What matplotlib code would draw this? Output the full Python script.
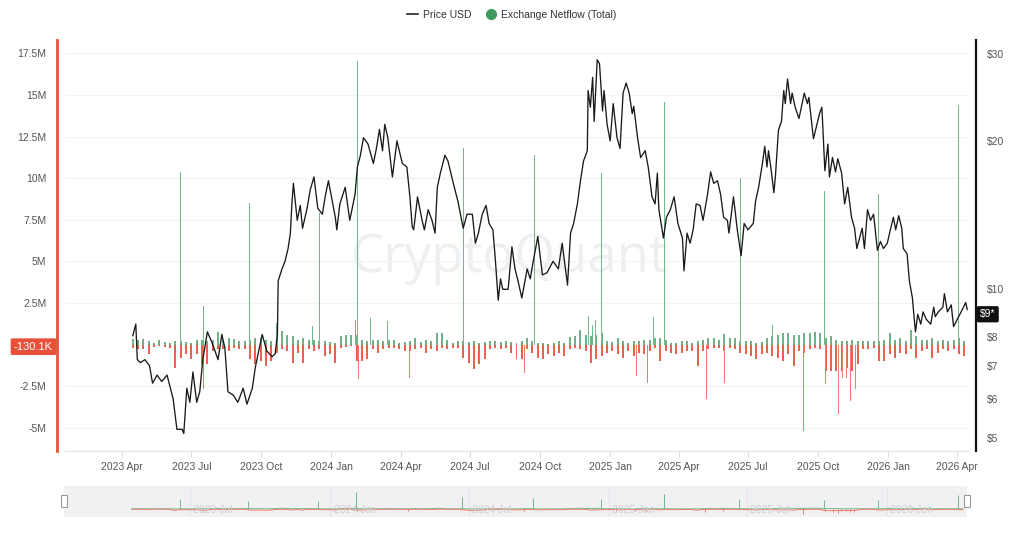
import pandas as pd
import matplotlib.pyplot as plt
import matplotlib.dates as mdates
import matplotlib.transforms as mtransforms
from matplotlib.lines import Line2D
from matplotlib.patches import Rectangle
from matplotlib.ticker import FixedLocator, FuncFormatter, NullLocator

plt.rcParams['font.family'] = ['Liberation Sans', 'DejaVu Sans']

# --- Price USD ---
price_dates = [
    "2023-04-15", "2023-04-19", "2023-04-21", "2023-04-25", "2023-05-01", "2023-05-07", "2023-05-11",
    "2023-05-17", "2023-05-23", "2023-05-30", "2023-06-07", "2023-06-12", "2023-06-19", "2023-06-21",
    "2023-06-25", "2023-06-29", "2023-07-03", "2023-07-08", "2023-07-12", "2023-07-16", "2023-07-22",
    "2023-07-28", "2023-08-01", "2023-08-05", "2023-08-10", "2023-08-14", "2023-08-18", "2023-08-25",
    "2023-08-31", "2023-09-07", "2023-09-12", "2023-09-19", "2023-09-23", "2023-10-02", "2023-10-08",
    "2023-10-15", "2023-10-19", "2023-10-22", "2023-10-23", "2023-10-28", "2023-11-01", "2023-11-05",
    "2023-11-08", "2023-11-10", "2023-11-12", "2023-11-17", "2023-11-21", "2023-11-24", "2023-11-30",
    "2023-12-04", "2023-12-09", "2023-12-14", "2023-12-20", "2023-12-24", "2023-12-28", "2024-01-02",
    "2024-01-06", "2024-01-08", "2024-01-12", "2024-01-19", "2024-01-25", "2024-02-01", "2024-02-04",
    "2024-02-08", "2024-02-12", "2024-02-18", "2024-02-25", "2024-02-29", "2024-03-04", "2024-03-08",
    "2024-03-11", "2024-03-15", "2024-03-21", "2024-03-27", "2024-04-03", "2024-04-09", "2024-04-13",
    "2024-04-16", "2024-04-18", "2024-04-23", "2024-04-29", "2024-05-02", "2024-05-07", "2024-05-12",
    "2024-05-16", "2024-05-19", "2024-05-23", "2024-05-29", "2024-06-02", "2024-06-09", "2024-06-15",
    "2024-06-22", "2024-06-27", "2024-07-04", "2024-07-08", "2024-07-12", "2024-07-17", "2024-07-22",
    "2024-07-26", "2024-07-31", "2024-08-03", "2024-08-07", "2024-08-10", "2024-08-13", "2024-08-20",
    "2024-08-25", "2024-08-29", "2024-09-02", "2024-09-07", "2024-09-14", "2024-09-18", "2024-09-22",
    "2024-09-28", "2024-10-04", "2024-10-10", "2024-10-18", "2024-10-25", "2024-10-30", "2024-11-06",
    "2024-11-10", "2024-11-14", "2024-11-19", "2024-11-23", "2024-11-27", "2024-12-02", "2024-12-03",
    "2024-12-06", "2024-12-09", "2024-12-11", "2024-12-15", "2024-12-18", "2024-12-22", "2024-12-24",
    "2024-12-28", "2025-01-01", "2025-01-05", "2025-01-10", "2025-01-14", "2025-01-18", "2025-01-22",
    "2025-01-26", "2025-01-30", "2025-02-01", "2025-02-06", "2025-02-10", "2025-02-16", "2025-02-20",
    "2025-02-25", "2025-03-01", "2025-03-04", "2025-03-06", "2025-03-12", "2025-03-16", "2025-03-21",
    "2025-03-26", "2025-03-31", "2025-04-06", "2025-04-08", "2025-04-12", "2025-04-16", "2025-04-20",
    "2025-04-24", "2025-04-29", "2025-05-03", "2025-05-09", "2025-05-13", "2025-05-17", "2025-05-22",
    "2025-05-26", "2025-05-30", "2025-06-04", "2025-06-06", "2025-06-12", "2025-06-17", "2025-06-22",
    "2025-06-26", "2025-07-01", "2025-07-08", "2025-07-11", "2025-07-15", "2025-07-20", "2025-07-23",
    "2025-07-26", "2025-07-28", "2025-08-01", "2025-08-04", "2025-08-06", "2025-08-10", "2025-08-14",
    "2025-08-17", "2025-08-19", "2025-08-22", "2025-08-26", "2025-08-28", "2025-09-01", "2025-09-06",
    "2025-09-13", "2025-09-17", "2025-09-19", "2025-09-23", "2025-09-25", "2025-09-29", "2025-10-03",
    "2025-10-06", "2025-10-07", "2025-10-10", "2025-10-14", "2025-10-16", "2025-10-20", "2025-10-24",
    "2025-10-27", "2025-11-01", "2025-11-05", "2025-11-09", "2025-11-14", "2025-11-18", "2025-11-21",
    "2025-11-28", "2025-12-01", "2025-12-05", "2025-12-09", "2025-12-13", "2025-12-18", "2025-12-22",
    "2025-12-26", "2025-12-31", "2026-01-04", "2026-01-08", "2026-01-11", "2026-01-15", "2026-01-19",
    "2026-01-21", "2026-01-26", "2026-01-29", "2026-02-02", "2026-02-03", "2026-02-06", "2026-02-09",
    "2026-02-13", "2026-02-16", "2026-02-20", "2026-02-26", "2026-03-02", "2026-03-04", "2026-03-08",
    "2026-03-14", "2026-03-16", "2026-03-20", "2026-03-25", "2026-03-28", "2026-04-02", "2026-04-07",
    "2026-04-13", "2026-04-15",
]
price_usd = [
    8.05, 8.5, 7.2, 7.1, 7.2, 7.0, 6.45,
    6.7, 6.5, 6.7, 6.0, 5.2, 5.2, 5.1,
    6.3, 5.9, 6.8, 5.9, 6.2, 7.2, 8.2,
    7.8, 7.5, 7.2, 8.1, 7.6, 6.2, 6.1,
    5.9, 6.3, 5.85, 6.3, 6.95, 8.1, 7.5,
    7.3, 7.4, 8.1, 10.4, 11.0, 11.4, 12.1,
    13.0, 14.9, 16.4, 13.8, 14.8, 13.3, 14.6,
    15.9, 16.9, 14.6, 14.2, 15.5, 16.6, 15.1,
    14.0, 13.2, 14.9, 16.1, 13.8, 15.6, 17.7,
    18.7, 20.3, 19.7, 18.0, 19.3, 21.1, 19.1,
    21.6, 20.3, 16.9, 20.0, 18.0, 17.7, 15.4,
    13.4, 13.2, 15.4, 13.8, 13.2, 14.5, 13.8,
    13.0, 16.1, 17.2, 18.7, 18.2, 16.4, 15.1,
    13.3, 14.2, 14.2, 12.4, 13.0, 14.2, 14.8,
    13.6, 13.2, 11.6, 9.5, 10.5, 10.0, 10.0,
    12.2, 11.0, 10.4, 9.6, 11.0, 10.5, 11.4,
    12.8, 10.7, 10.8, 11.4, 11.0, 12.4, 10.2,
    13.0, 13.6, 14.9, 16.6, 18.2, 19.1, 25.3,
    23.4, 26.9, 21.9, 29.2, 28.7, 23.0, 25.3,
    21.6, 20.0, 23.8, 20.3, 19.3, 25.0, 26.2,
    25.0, 22.7, 23.5, 20.3, 18.5, 19.1, 17.7,
    15.4, 14.9, 17.2, 14.5, 12.7, 14.0, 14.5,
    15.4, 13.6, 12.7, 10.9, 13.0, 12.4, 13.2,
    14.9, 14.8, 13.8, 15.6, 17.3, 16.4, 16.6,
    15.6, 14.0, 13.8, 13.0, 15.4, 13.2, 11.7,
    13.6, 13.2, 13.6, 15.1, 16.1, 18.0, 19.5,
    17.7, 19.1, 17.2, 15.7, 16.9, 21.0, 21.9,
    25.3, 23.8, 26.7, 23.8, 25.0, 23.4, 22.2,
    25.0, 23.8, 24.5, 21.6, 20.2, 21.4, 22.7,
    23.4, 21.9, 17.4, 19.7, 16.9, 18.5, 17.3,
    18.4, 17.2, 14.9, 16.1, 14.0, 13.3, 12.1,
    13.3, 12.1, 14.5, 13.8, 14.2, 12.0, 12.5,
    12.1, 12.4, 13.2, 14.0, 13.2, 14.1, 13.3,
    12.1, 11.8, 10.4, 9.6, 9.2, 8.2, 8.9,
    8.5, 9.0, 8.7, 8.5, 9.2, 8.8, 9.0,
    9.2, 9.8, 9.0, 9.3, 8.4, 8.7, 9.0,
    9.4, 9.1,
]

# --- Exchange netflow, weekly typical inflow / outflow (M), from 2023-04-15 ---
netflow_pos = [
    0.35, 0.3, 0.35, 0.2, 0.1, 0.3, 0.15, 0.1, 0.2, 0.2,
    0.15, 0.1, 0.25, 0.3, 0.2, 0.3, 0.75, 0.3, 0.4, 0.35,
    0.2, 0.2, 0.3, 0.4, 0.4, 0.3, 0.2, 0.5, 0.8, 0.6,
    0.5, 0.3, 0.4, 0.3, 0.3, 0.2, 0.2, 0.15, 0.1, 0.5,
    0.55, 0.6, 0.6, 0.3, 0.2, 0.3, 0.3, 0.2, 0.3, 0.3,
    0.1, 0.15, 0.2, 0.4, 0.15, 0.3, 0.2, 0.7, 0.7, 0.3,
    0.1, 0.2, 0.2, 0.15, 0.2, 0.1, 0.15, 0.2, 0.2, 0.15,
    0.2, 0.15, 0.1, 0.2, 0.4, 0.2, 0.1, 0.1, 0.05, 0.1,
    0.2, 0.1, 0.45, 0.5, 0.9, 0.6, 0.5, 0.6, 0.7, 0.2,
    0.15, 0.4, 0.2, 0.1, 0.2, 0.2, 0.3, 0.3, 0.4, 0.4,
    0.3, 0.1, 0.1, 0.2, 0.2, 0.1, 0.2, 0.3, 0.4, 0.4,
    0.3, 0.65, 0.4, 0.4, 0.2, 0.2, 0.2, 0.1, 0.15, 0.4,
    0.5, 0.6, 0.7, 0.7, 0.6, 0.6, 0.7, 0.7, 0.75, 0.7,
    0.4, 0.5, 0.3, 0.2, 0.2, 0.3, 0.2, 0.2, 0.2, 0.2,
    0.2, 0.3, 0.7, 0.3, 0.4, 0.2, 0.9, 0.5, 0.3, 0.3,
    0.4, 0.2, 0.25, 0.2, 0.3, 0.4, 0.2,
]
netflow_neg = [
    -0.2, -0.3, -0.25, -0.6, -0.15, -0.1, -0.15, -0.2, -1.4, -0.8,
    -0.6, -0.9, -0.6, -1.2, -1.2, -0.4, -0.3, -0.3, -0.4, -0.2,
    -0.3, -0.25, -0.9, -1.2, -1.0, -1.3, -1.0, -0.5, -0.3, -0.4,
    -1.1, -0.5, -1.1, -0.3, -0.4, -0.3, -0.7, -0.6, -1.1, -0.2,
    -0.15, -0.1, -1.0, -1.0, -0.9, -0.3, -0.5, -0.3, -0.2, -0.2,
    -0.3, -0.4, -0.4, -0.3, -0.2, -0.5, -0.3, -0.4, -0.2, -0.3,
    -0.2, -0.2, -0.8, -1.1, -1.5, -1.2, -0.9, -0.3, -0.2, -0.3,
    -0.2, -0.5, -0.9, -0.9, -0.3, -0.5, -0.8, -0.9, -0.6, -0.7,
    -0.5, -0.7, -0.3, -0.2, -0.3, -0.4, -1.1, -0.9, -0.7, -0.5,
    -0.4, -0.6, -0.8, -0.4, -0.7, -0.5, -0.6, -0.4, -0.2, -1.0,
    -0.4, -0.5, -0.6, -0.5, -0.4, -0.4, -1.3, -0.4, -0.3, -0.2,
    -0.2, -0.4, -0.2, -0.3, -0.5, -0.6, -0.7, -0.9, -0.6, -0.5,
    -0.7, -0.8, -1.0, -0.6, -1.3, -0.4, -0.5, -0.3, -0.2, -0.3,
    -1.6, -1.6, -1.6, -1.6, -1.4, -1.6, -1.2, -0.3, -0.3, -0.2,
    -1.0, -1.0, -0.6, -0.8, -0.5, -0.6, -0.3, -0.8, -0.4, -0.3,
    -0.8, -0.5, -0.3, -0.4, -0.3, -0.6, -0.7,
]

# --- single-day netflow spikes (M) ---
spike_dates = [
    "2023-06-17", "2023-07-17", "2023-09-15", "2023-10-21", "2023-12-07", "2023-12-16",
    "2024-02-01", "2024-02-04", "2024-02-21", "2024-03-14", "2024-06-22", "2024-09-23",
    "2024-12-03", "2024-12-09", "2024-12-13", "2024-12-21", "2025-02-27", "2025-03-14",
    "2025-06-21", "2025-08-02", "2025-10-10", "2025-12-20", "2026-04-04",
    "2023-07-17", "2024-02-05", "2024-04-12", "2024-09-11", "2025-01-10", "2025-02-04",
    "2025-02-19", "2025-05-07", "2025-05-31", "2025-09-12", "2025-10-11", "2025-10-22",
    "2025-10-28", "2025-11-02", "2025-11-08", "2025-11-13", "2025-11-19",
]
spike_values = [
    10.35, 2.3, 8.5, 1.3, 1.1, 7.9,
    1.5, 17.05, 1.6, 1.4, 11.8, 11.4,
    1.7, 1.2, 1.5, 10.3, 1.65, 14.6,
    10.0, 1.2, 9.2, 9.05, 14.4,
    -2.7, -2.1, -2.0, -1.7, -1.9, -1.9,
    -2.3, -3.3, -2.3, -5.2, -2.4, -3.2,
    -4.2, -2.0, -2.0, -3.4, -2.7,
]

last_netflow = -0.1301
last_price = 8.9

left_ticks = [-5, -2.5, 2.5, 5, 7.5, 10, 12.5, 15, 17.5]
right_ticks = [5, 6, 7, 8, 10, 20, 30]
nav_labels = ["2023-07-01", "2024-01-01", "2024-07-01", "2025-01-01", "2025-07-01", "2026-01-01"]

# --- build ---
week_dates = pd.date_range("2023-04-15", periods=len(netflow_pos), freq="7D")
p_dates = pd.to_datetime(price_dates)
s_dates = pd.to_datetime(spike_dates)
s_pos = [(d, v) for d, v in zip(s_dates, spike_values) if v > 0]
s_neg = [(d, v) for d, v in zip(s_dates, spike_values) if v < 0]

GREEN = "#4c9f68"
GREEN_L = "#74b88c"
RED = "#e8503a"
GRAY = "#555555"

fig = plt.figure(figsize=(10.24, 5.33), dpi=100)
ax = fig.add_axes([65 / 1024, 1 - 451 / 533, 903 / 1024, 411 / 533])
xmin, xmax = pd.Timestamp("2023-01-16"), pd.Timestamp("2026-04-16")

ax.text(0.493, 0.47, "CryptoQuant", transform=ax.transAxes, ha="center", va="center",
        fontsize=38, color="#efeff2", family="Open Sans", zorder=0)

ax.bar(week_dates, netflow_pos, width=2.6, color=GREEN, alpha=0.8, linewidth=0, zorder=2)
ax.bar(week_dates, netflow_neg, width=2.6, color=RED, alpha=0.9, linewidth=0, zorder=2)
ax.bar([d for d, v in s_pos], [v for d, v in s_pos], width=1.3, color=GREEN_L, linewidth=0, zorder=2)
ax.bar([d for d, v in s_neg], [v for d, v in s_neg], width=1.3, color="#ee7a6b", linewidth=0, zorder=2)

ax.set_xlim(xmin, xmax)
ax.set_ylim(-6.4, 18.3)
ax.yaxis.set_major_locator(FixedLocator(left_ticks))
ax.yaxis.set_major_formatter(FuncFormatter(lambda v, p: f"{v:g}M"))
ax.grid(axis="y", color="#f3f3f3", linewidth=0.9, zorder=0)
ax.set_axisbelow(True)
ax.tick_params(axis="y", length=0, pad=7.5, labelsize=7.5, labelcolor=GRAY)

ax.xaxis.set_major_locator(mdates.MonthLocator(bymonth=[1, 4, 7, 10]))
ax.xaxis.set_major_formatter(mdates.DateFormatter("%Y %b"))
ax.tick_params(axis="x", length=4.5, width=0.8, color="#dcdcdc", pad=3.5, labelsize=7.5, labelcolor=GRAY)

for s in ["top", "right"]:
    ax.spines[s].set_visible(False)
ax.spines["left"].set_position(("outward", 6))
ax.spines["left"].set_color(RED)
ax.spines["left"].set_linewidth(2)
ax.spines["bottom"].set_color("#e3e3e3")

# price on log axis
ax2 = ax.twinx()
ax2.plot(p_dates, price_usd, color="#1a1a1a", linewidth=0.95, zorder=3)
ax2.set_yscale("log")
ax2.set_ylim(4.70, 32.03)
ax2.yaxis.set_major_locator(FixedLocator(right_ticks))
ax2.yaxis.set_major_formatter(FuncFormatter(lambda v, p: f"${v:g}"))
ax2.yaxis.set_minor_locator(NullLocator())
ax2.tick_params(axis="y", length=0, pad=8, labelsize=7.5, labelcolor=GRAY)
for s in ["top", "left", "bottom"]:
    ax2.spines[s].set_visible(False)
ax2.spines["right"].set_position(("outward", 6))
ax2.spines["right"].set_color("#111111")
ax2.spines["right"].set_linewidth(1.6)
ax2.set_xlim(xmin, xmax)

# last-value markers
tl = mtransforms.blended_transform_factory(fig.transFigure, ax.transData)
fig.text(53 / 1024, last_netflow, f"{last_netflow * 1000:.1f}K", transform=tl, ha="right", va="center",
         fontsize=8, color="white",
         bbox=dict(boxstyle="round,pad=0.3,rounding_size=0.15", fc=RED, ec="none"))
tr = mtransforms.blended_transform_factory(fig.transFigure, ax2.transData)
fig.text(980 / 1024, last_price, "$9*", transform=tr, ha="left", va="center",
         fontsize=7.5, color="white",
         bbox=dict(boxstyle="round,pad=0.3,rounding_size=0.15", fc="#111111", ec="none"))

# legend
handles = [Line2D([0], [0], color="#222222", linewidth=1.2),
           Line2D([0], [0], marker="o", color="none", markerfacecolor="#3d9a5e",
                  markeredgecolor="#3d9a5e", markersize=7)]
fig.legend(handles, ["Price USD", "Exchange Netflow (Total)"], loc="center",
           bbox_to_anchor=(0.5, 1 - 15 / 533), ncol=2, frameon=False, fontsize=7.5,
           handlelength=1.0, handletextpad=0.5, columnspacing=1.4, labelcolor="#333333")

# navigator strip
nav = fig.add_axes([64 / 1024, 1 - 517 / 533, 903 / 1024, 31 / 533])
nav.set_facecolor("#f1f1f3")
nav.plot(week_dates, netflow_pos, color=GREEN_L, linewidth=0.7)
nav.plot(week_dates, netflow_neg, color="#ee7a6b", linewidth=0.7)
nav.vlines([d for d, v in s_pos], 0, [v for d, v in s_pos], color=GREEN_L, linewidth=0.7)
nav.vlines([d for d, v in s_neg], 0, [v for d, v in s_neg], color="#ee7a6b", linewidth=0.7)
nav.set_xlim(xmin, xmax)
nav.set_ylim(-8, 23)
nav.set_xticks([])
nav.set_yticks([])
for s in nav.spines.values():
    s.set_visible(False)
tn = mtransforms.blended_transform_factory(nav.transData, nav.transAxes)
for d in pd.to_datetime(nav_labels):
    nav.axvline(d, color="#e6e6ea", linewidth=0.8, zorder=0)
    nav.text(d + pd.Timedelta(days=4), 0.22, d.strftime("%Y %b"), transform=tn, ha="left",
             va="center", fontsize=7.5, color="#cfcfd4")
for hx in [61, 964]:
    fig.patches.append(Rectangle((hx / 1024, 1 - 507 / 533), 6 / 1024, 12 / 533, transform=fig.transFigure,
                                 facecolor="white", edgecolor="#9a9a9a", linewidth=0.8))

fig.savefig("out.png", dpi=100)
